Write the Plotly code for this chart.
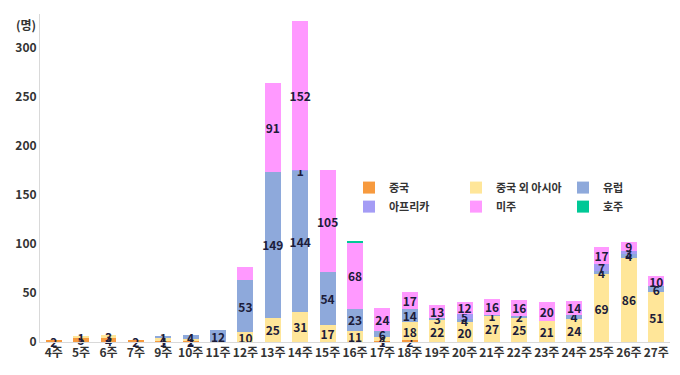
import plotly.graph_objects as go

weeks = ["4주","5주","6주","7주","9주","10주","11주","12주","13주","14주","15주","16주","17주",
         "18주","19주","20주","21주","22주","23주","24주","25주","26주","27주"]
china      = [2,5,4,2,1,2,0,0,0,0,0,0,1,2,0,0,0,0,0,0,0,0,0]
asia       = [0,1,3,0,4,1,0,10,25,31,17,11,4,18,22,20,27,25,21,24,69,86,51]
europe     = [0,0,0,0,1,4,12,53,149,144,54,23,6,14,3,4,1,2,0,4,4,4,6]
africa     = [0,0,0,0,0,0,0,0,0,1,0,0,0,0,0,5,0,0,0,0,7,3,0]
americas   = [0,0,0,0,0,0,0,14,91,152,105,68,24,17,13,12,16,16,20,14,17,9,10]
oceania    = [0,0,0,0,0,0,0,0,0,0,0,1,0,0,0,0,0,0,0,0,0,0,0]

series = [
    ("중국", china, "#F79A3E", "legend"),
    ("중국 외 아시아", asia, "#FFE699", "legend"),
    ("유럽", europe, "#8EA9DB", "legend"),
    ("아프리카", africa, "#A49CF5", "legend2"),
    ("미주", americas, "#FF99FF", "legend2"),
    ("호주", oceania, "#00C896", "legend2"),
]
hidden = {("미주", "12주"), ("호주", "16주")}

fig = go.Figure()
for name, vals, color, lg in series:
    texts = [str(v) if v > 0 and (name, w) not in hidden else "" for v, w in zip(vals, weeks)]
    fig.add_trace(go.Bar(
        name=name, x=weeks, y=vals, marker=dict(color=color, line=dict(width=0)),
        text=texts, textposition="inside", insidetextanchor="middle", textangle=0,
        textfont=dict(color="#1C1C3A", size=12, family="Noto Sans CJK KR", weight="bold"),
        cliponaxis=False, legend=lg,
    ))

leg_common = dict(orientation="h", xanchor="right", yanchor="top", traceorder="normal",
                  entrywidth=62, itemwidth=30, bgcolor="rgba(0,0,0,0)",
                  font=dict(size=11, weight="bold", color="#333333"))

fig.update_layout(
    barmode="stack", bargap=0.42,
    width=680, height=375,
    margin=dict(l=40, r=10, t=14, b=33),
    plot_bgcolor="white", paper_bgcolor="white",
    font=dict(family="Noto Sans CJK KR", color="#333333"),
    uniformtext=dict(minsize=12, mode="show"),
    showlegend=True,
    legend=dict(x=1.0, y=0.515, **leg_common),
    legend2=dict(x=1.0, y=0.457, **leg_common),
    annotations=[dict(text="(명)", xref="paper", yref="paper", x=0, y=1.0,
                      xanchor="right", yanchor="top", xshift=-2, showarrow=False,
                      font=dict(size=12, weight="bold", color="#333333"))],
)
fig.update_yaxes(range=[0, 335], tickvals=[0,50,100,150,200,250,300], showgrid=False,
                 showline=True, linecolor="#D9D9D9", linewidth=1, ticks="",
                 tickfont=dict(size=12, weight="bold", color="#333333"), zeroline=False)
fig.update_xaxes(showline=True, linecolor="#D9D9D9", linewidth=1, ticks="", tickangle=0,
                 tickfont=dict(size=12, weight="bold", color="#333333"))

fig.write_html("out.html")
